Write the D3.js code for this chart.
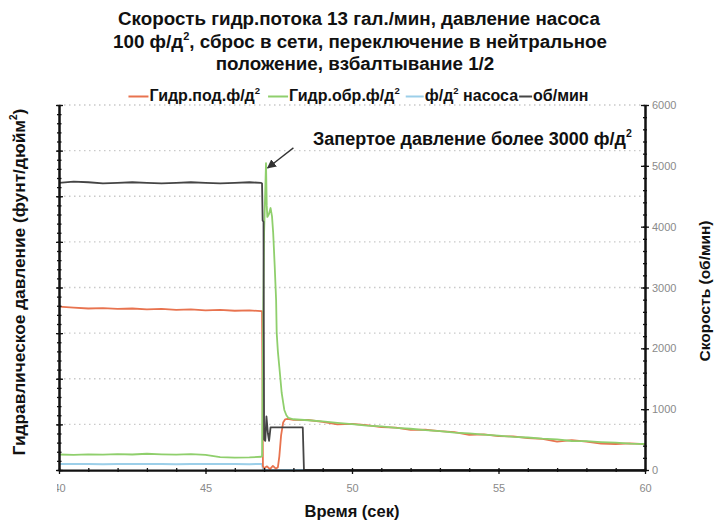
<!DOCTYPE html>
<html><head><meta charset="utf-8">
<script src="https://cdn.jsdelivr.net/npm/d3@7"></script>
<style>body{margin:0;background:#fff} text{font-family:"Liberation Sans",Arial,sans-serif}</style>
</head><body><svg id="c" width="719" height="521"></svg>
<script>
// ---------- data ----------
const titleLines = ["Скорость гидр.потока 13 гал./мин, давление насоса", "100 ф/д", ", сброс в сети, переключение в нейтральное", "положение, взбалтывание 1/2"];
const xTicks = [40, 45, 50, 55, 60];
const rightTicks = [0, 1000, 2000, 3000, 4000, 5000, 6000];

const preTime = [40,40.5,41,41.5,42,42.5,43,43.5,44,44.5,45,45.5,46,46.5,46.9];
const declineTime = [48,48.5,49,49.5,50,50.5,51,51.5,52,52.5,53,53.5,54,54.5,55,55.5,56,56.5,57,57.5,58,58.5,59,59.5,60];

// об/мин (right axis)
const rpmPre = [4720,4740,4730,4710,4720,4730,4720,4710,4720,4730,4720,4710,4720,4730,4720];
const rpmEventTime = [46.93,46.95,46.98,47.0,47.04,47.08,47.13,47.17,47.22,47.3,48.0,48.32,48.36,60];
const rpmEvent = [4710,4100,4080,500,480,880,600,480,700,700,700,700,0,0];

// Гидр.под.ф/д² (left axis)
const supplyPre = [1790,1780,1770,1775,1765,1770,1760,1765,1755,1760,1750,1755,1745,1750,1740];
const supplyEventTime = [46.93,46.96,47.0,47.1,47.2,47.3,47.4,47.47,47.52,47.58,47.65,47.72,47.8];
const supplyEvent = [1740,40,20,40,10,45,15,30,150,380,520,555,560];
const supplyDecline = [550,548,528,500,505,492,470,465,440,441,425,415,385,390,372,368,350,340,310,328,312,290,285,292,284];

// Гидр.обр.ф/д² (left axis)
const returnPre = [170,165,172,168,175,170,178,172,168,175,165,140,135,138,145];
const returnEventTime = [46.93,46.96,47.0,47.065,47.09,47.11,47.16,47.22,47.27,47.31,47.36,47.41,47.43,47.47,47.52,47.6,47.69,47.76,47.83];
const returnEvent = [150,1400,2600,3364,2900,2773,2800,2871,2780,2597,2250,1863,1501,1300,1129,844,658,600,570];
const returnDecline = [556,545,532,516,503,486,478,462,452,436,427,410,402,388,376,364,356,344,336,318,316,306,299,290,285];

// ф/д² насоса (left axis)
const pumpPre = [65,66,65,64,65,66,65,65,64,65,66,65,65,64,65];
const pumpEventTime = [46.93,46.97,60];
const pumpEvent = [65,0,0];

// ---------- build series ----------
function zip(t, v){ return t.map((d,i)=>({t:d, v:v[i]})); }
const rpm = zip(preTime.concat(rpmEventTime), rpmPre.concat(rpmEvent));
const supply = zip(preTime.concat(supplyEventTime, declineTime), supplyPre.concat(supplyEvent, supplyDecline));
const ret = zip(preTime.concat(returnEventTime, declineTime), returnPre.concat(returnEvent, returnDecline));
const pump = zip(preTime.concat(pumpEventTime), pumpPre.concat(pumpEvent));

const colors = {supply:"#e8734f", ret:"#8fcf6c", pump:"#9ccfe9", rpm:"#454545"};

// ---------- chart ----------
const svg = d3.select("#c");
const x = d3.scaleLinear().domain([40,60]).range([59,645]);
const yL = d3.scaleLinear().domain([0,4000]).range([470,105]);
const yR = d3.scaleLinear().domain([0,6000]).range([470,105]);

// gridlines
svg.append("g").selectAll("line").data(d3.range(500,4001,500)).join("line")
  .attr("x1",59).attr("x2",645).attr("y1",d=>yL(d)).attr("y2",d=>yL(d))
  .attr("stroke","#c9c9c9").attr("stroke-width",1.3).attr("stroke-dasharray","1.5,3.5");

// lines
function drawLine(data, scale, color, w){
  svg.append("path").datum(data)
    .attr("d", d3.line().x(d=>x(d.t)).y(d=>scale(d.v)))
    .attr("fill","none").attr("stroke",color).attr("stroke-width",w).attr("stroke-linejoin","round");
}
drawLine(pump, yL, colors.pump, 2);
drawLine(supply, yL, colors.supply, 1.8);
drawLine(ret, yL, colors.ret, 1.8);
drawLine(rpm, yR, colors.rpm, 1.8);

// axes
function styleAxis(g){
  g.select(".domain").attr("stroke","#111").attr("stroke-width",2);
  g.selectAll(".tick line").attr("stroke","#111").attr("stroke-width",1.3);
}
const lblFont = 11;
// left
const gLm = svg.append("g").attr("transform","translate(59,0)")
  .call(d3.axisLeft(yL).tickValues(d3.range(0,4001,100)).tickSize(2).tickSizeOuter(0).tickFormat(""));
gLm.selectAll(".tick line").attr("x1",2.5);
styleAxis(gLm);
const gLM = svg.append("g").attr("transform","translate(59,0)")
  .call(d3.axisLeft(yL).tickValues(d3.range(0,4001,500)).tickSize(3).tickSizeOuter(0).tickFormat(""));
gLM.selectAll(".tick line").attr("x1",4);
styleAxis(gLM);
// right
const gRm = svg.append("g").attr("transform","translate(645,0)")
  .call(d3.axisRight(yR).tickValues(d3.range(0,6001,200)).tickSize(2).tickSizeOuter(0).tickFormat(""));
gRm.selectAll(".tick line").attr("x1",-2);
styleAxis(gRm);
const gRM = svg.append("g").attr("transform","translate(645,0)")
  .call(d3.axisRight(yR).tickValues(rightTicks).tickSize(4).tickPadding(3).tickSizeOuter(0).tickFormat(d3.format("d")));
gRM.selectAll(".tick line").attr("x1",-4);
styleAxis(gRM);
gRM.selectAll("text").attr("fill","#8a8a8a").attr("font-size",lblFont).attr("font-family","Liberation Sans, Arial");
// bottom
const gBm = svg.append("g").attr("transform","translate(0,470)")
  .call(d3.axisBottom(x).tickValues(d3.range(40,61,1)).tickSize(2).tickSizeOuter(0).tickFormat(""));
gBm.selectAll(".tick line").attr("y1",-2);
styleAxis(gBm);
const gBM = svg.append("g").attr("transform","translate(0,470)")
  .call(d3.axisBottom(x).tickValues(xTicks).tickSize(4).tickPadding(10).tickSizeOuter(0).tickFormat(d3.format("d")));
gBM.selectAll(".tick line").attr("y1",-4);
styleAxis(gBM);
gBM.selectAll("text").attr("fill","#8a8a8a").attr("font-size",lblFont).attr("font-family","Liberation Sans, Arial");
svg.append("defs").append("clipPath").attr("id","clipL").append("rect").attr("x",57).attr("y",0).attr("width",700).attr("height",521);
gBM.attr("clip-path","url(#clipL)");

// title
const tf = 18.8;
const title = svg.append("g").attr("font-weight","bold").attr("font-size",tf).attr("fill","#111").attr("text-anchor","middle");
title.append("text").attr("x",359).attr("y",25).text(titleLines[0]);
const t2 = title.append("text").attr("x",360).attr("y",48);
t2.append("tspan").text(titleLines[1]);
t2.append("tspan").attr("font-size",11).attr("dy",-8).text("2");
t2.append("tspan").attr("dy",8).text(titleLines[2]);
title.append("text").attr("x",355).attr("y",70).text(titleLines[3]);

// legend
const legendItems = [
  {pre:"Гидр.под.ф/д", sup:"2", post:"", color:colors.supply},
  {pre:"Гидр.обр.ф/д", sup:"2", post:"", color:colors.ret},
  {pre:"ф/д", sup:"2", post:" насоса", color:colors.pump},
  {pre:"об/мин", sup:"", post:"", color:colors.rpm}
];
const swW = [20, 20, 18, 13];
const gapAfter = [8, 6, 1, 0];
const lg = svg.append("g");
const texts = legendItems.map((it,i)=>{
  const t = lg.append("text").attr("y",100.5).attr("font-size",16).attr("font-weight","bold").attr("fill","#111");
  t.append("tspan").text(it.pre);
  if(it.sup){ t.append("tspan").attr("font-size",9.5).attr("dy",-7).text(it.sup); t.append("tspan").attr("dy",7).text(it.post); }
  return t;
});
const widths = texts.map(t=>t.node().getComputedTextLength());
const total = d3.sum(widths) + d3.sum(swW) + d3.sum(gapAfter) + 4;
let cx = 358.5 - total/2;
legendItems.forEach((it,i)=>{
  lg.append("line").attr("x1",cx).attr("x2",cx+swW[i]).attr("y1",96.5).attr("y2",96.5)
    .attr("stroke",it.color).attr("stroke-width",2);
  cx += swW[i] + 1;
  texts[i].attr("x",cx);
  cx += widths[i] + gapAfter[i];
});

// axis titles
svg.append("text").attr("transform","translate(25,282) rotate(-90)").attr("text-anchor","middle")
  .attr("font-weight","bold").attr("font-size",17.3).attr("fill","#111")
  .call(t=>{ t.append("tspan").text("Гидравлическое давление (фунт/дюйм"); t.append("tspan").attr("font-size",10).attr("dy",-8).text("2"); t.append("tspan").attr("dy",8).text(")"); });
svg.append("text").attr("transform","translate(710,291) rotate(-90)").attr("text-anchor","middle")
  .attr("font-weight","bold").attr("font-size",15.5).attr("fill","#111").text("Скорость (об/мин)");
svg.append("text").attr("x",352).attr("y",517).attr("text-anchor","middle")
  .attr("font-weight","bold").attr("font-size",16.5).attr("fill","#111").text("Время (сек)");

// annotation
svg.append("defs").append("marker").attr("id","arr").attr("viewBox","0 0 10 10").attr("refX",9).attr("refY",5)
  .attr("markerWidth",7).attr("markerHeight",7).attr("orient","auto")
  .append("path").attr("d","M0,0 L10,5 L0,10 z").attr("fill","#333");
svg.append("line").attr("x1",x(48.0)).attr("y1",yL(3530)).attr("x2",x(47.12)).attr("y2",yL(3310))
  .attr("stroke","#333").attr("stroke-width",1.3).attr("marker-end","url(#arr)");
svg.append("text").attr("x",313).attr("y",145).attr("font-weight","bold").attr("font-size",18).attr("fill","#111")
  .call(t=>{ t.append("tspan").text("Запертое давление более 3000 ф/д"); t.append("tspan").attr("font-size",10.5).attr("dy",-8).text("2"); });
</script></body></html>
